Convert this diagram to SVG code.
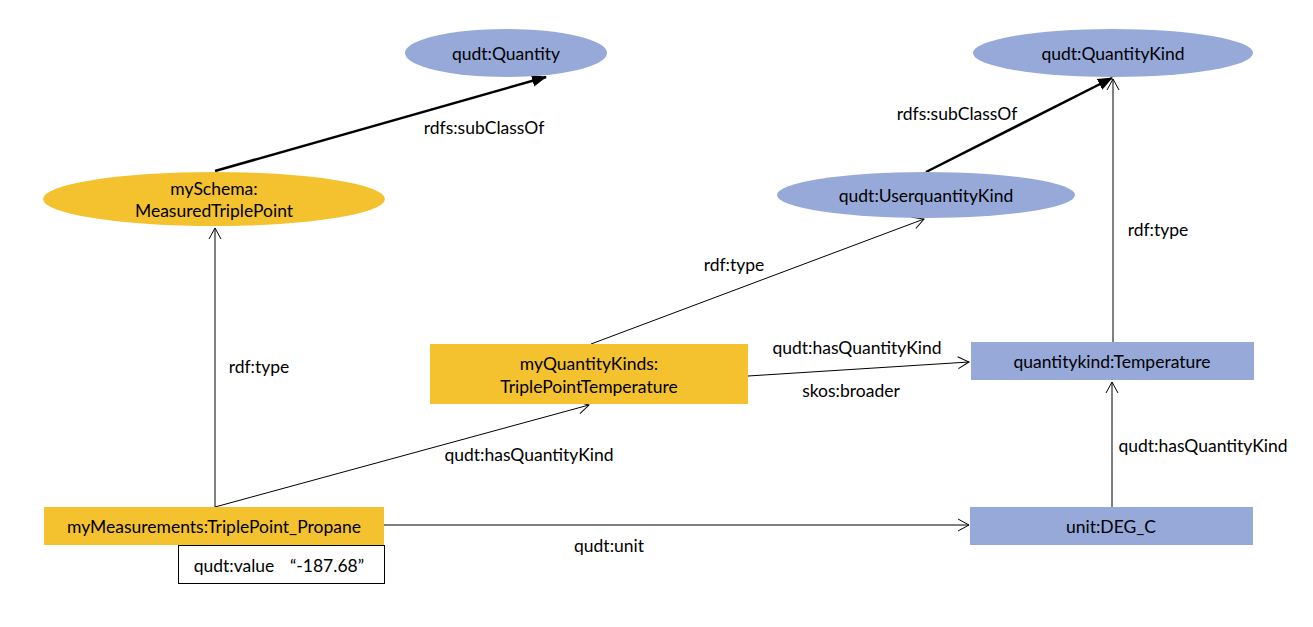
<svg xmlns="http://www.w3.org/2000/svg" width="1313" height="627" viewBox="0 0 1313 627">
<style>
text{font-family:Lato,"Liberation Sans",sans-serif;font-size:17.5px;fill:#000;text-anchor:middle;dominant-baseline:central}
.o{fill:#F4C22F}
.b{fill:#97A9D9}
.thin{stroke:#000;stroke-width:1;fill:none;marker-end:url(#open)}
.thick{stroke:#000;stroke-width:2.5;fill:none;marker-end:url(#solid)}
</style>
<defs>
<marker id="open" markerWidth="14" markerHeight="14" refX="12" refY="7" orient="auto" markerUnits="userSpaceOnUse">
<path d="M1,1 L12,7 L1,13" fill="none" stroke="#000" stroke-width="1"/>
</marker>
<marker id="solid" markerWidth="16" markerHeight="14" refX="14" refY="7" orient="auto" markerUnits="userSpaceOnUse">
<path d="M0,1 L15,7 L0,13 z" fill="#000"/>
</marker>
</defs>
<rect width="1313" height="627" fill="#fff"/>
<g id="connectors">
<path class="thick" d="M215,171 L546,77"/>
<path class="thick" d="M926,172 L1112,78"/>
<path class="thin" d="M1113,342 L1113,79"/>
<path class="thin" d="M591,344 L924,219"/>
<path class="thin" d="M748,376 L969,362"/>
<path class="thin" d="M215,507 L215,228"/>
<path class="thin" d="M215,507 L589,405"/>
<path class="thin" d="M384,525 L969,525"/>
<path class="thin" d="M1112,507 L1112,382"/>
<text x="484" y="127">rdfs:subClassOf</text>
<text x="957" y="113">rdfs:subClassOf</text>
<text x="1158" y="229">rdf:type</text>
<text x="734" y="264">rdf:type</text>
<text x="857" y="347">qudt:hasQuantityKind</text>
<text x="851" y="390">skos:broader</text>
<text x="259" y="366">rdf:type</text>
<text x="529" y="454">qudt:hasQuantityKind</text>
<text x="609" y="545">qudt:unit</text>
<text x="1203" y="445">qudt:hasQuantityKind</text>
</g>
<g id="quantity"><ellipse class="b" cx="506" cy="53" rx="101" ry="24"/><text x="506" y="53">qudt:Quantity</text></g>
<g id="quantityKind"><ellipse class="b" cx="1113" cy="53" rx="140" ry="24"/><text x="1113" y="53">qudt:QuantityKind</text></g>
<g id="userQuantityKind"><ellipse class="b" cx="926" cy="195" rx="149" ry="23"/><text x="926" y="195">qudt:UserquantityKind</text></g>
<g id="measuredTriplePoint"><ellipse class="o" cx="214" cy="199" rx="171" ry="27"/><text x="214" y="188">mySchema:</text><text x="214" y="210">MeasuredTriplePoint</text></g>
<g id="tripleTemp"><rect class="o" x="430" y="344" width="318" height="60"/><text x="589" y="363">myQuantityKinds:</text><text x="589" y="386">TriplePointTemperature</text></g>
<g id="temperature"><rect class="b" x="971" y="342" width="283" height="38"/><text x="1112" y="361">quantitykind:Temperature</text></g>
<g id="propane"><rect class="o" x="44" y="507" width="340" height="38"/><text x="214" y="526">myMeasurements:TriplePoint_Propane</text></g>
<g id="value"><rect x="178.5" y="545.5" width="206" height="38" fill="#fff" stroke="#000" stroke-width="1"/><text x="234" y="565">qudt:value</text><text x="327" y="565">“-187.68”</text></g>
<g id="degC"><rect class="b" x="970" y="507" width="283" height="38"/><text x="1111" y="526">unit:DEG_C</text></g>
</svg>
